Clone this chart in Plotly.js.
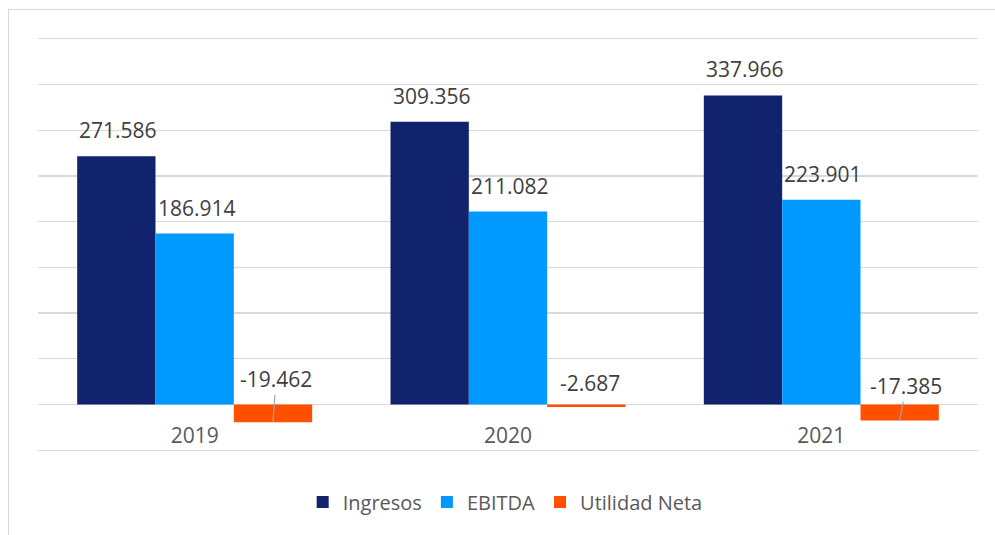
<!DOCTYPE html>
<html>
<head>
<meta charset="utf-8">
<script src="https://cdn.plot.ly/plotly-3.0.1.min.js"></script>
<style>
  html, body { margin: 0; padding: 0; background: #ffffff; }
  #wrap { position: relative; width: 995px; height: 535px; overflow: hidden; }
  #frame { position: absolute; left: 8px; top: 9px; width: 1100px; height: 700px;
           border-left: 1.5px solid #d9d9d9; border-top: 1.5px solid #d9d9d9; }
  #chart { position: absolute; left: 0; top: 0; width: 995px; height: 535px; }
</style>
</head>
<body>
<div id="wrap">
  <div id="frame"></div>
  <div id="chart"></div>
</div>
<script>
// ---- data ----
const years = ['2019', '2020', '2021'];
const ingresos = [271586, 309356, 337966];
const ebitda = [186914, 211082, 223901];
const utilidadNeta = [-19462, -2687, -17385];
const seriesNames = ['Ingresos', 'EBITDA', 'Utilidad Neta'];

// ---- styles ----
const colors = ['#12236e', '#0099ff', '#ff5000'];
const labelFont = { family: 'Open Sans, sans-serif', size: 21, color: '#404040' };
const catFont = { family: 'Open Sans, sans-serif', size: 21, color: '#595959' };
const legendFont = { family: 'Open Sans, sans-serif', size: 20, color: '#595959' };
const gridColor = '#d9d9d9';
// offsets (px) of the negative labels relative to the bar end: [dx, dy, leader?]
const negLabelOffsets = [[3, -43, true], [3.5, -24, false], [6.5, -34, true]];

const W = 995, H = 535;
const margin = { l: 38, r: 17, t: 36, b: 82, pad: 0 };
const yRange = [-53000, 403000];
const bargap = 0.25;

const series = [ingresos, ebitda, utilidadNeta];

function fmt(v) {
  const s = v < 0 ? '-' : '';
  return s + String(Math.abs(v)).replace(/\B(?=(\d{3})+(?!\d))/g, '.');
}

const traces = series.map((vals, k) => ({
  type: 'bar',
  name: seriesNames[k],
  x: years,
  y: vals,
  marker: { color: colors[k] },
  hoverinfo: 'skip'
}));

// bar width in px derived from layout
const plotW = W - margin.l - margin.r;
const barPx = plotW / years.length * (1 - bargap) / series.length;

const annotations = [];
series.forEach((vals, k) => {
  const dx = (k - 1) * barPx;
  vals.forEach((v, i) => {
    if (v >= 0) {
      annotations.push({
        x: i, y: v, xref: 'x', yref: 'y',
        text: fmt(v), showarrow: false,
        xanchor: 'center', yanchor: 'middle',
        xshift: dx + 2, yshift: 26,
        font: labelFont
      });
    } else {
      const o = negLabelOffsets[i];
      if (o[2]) {
        annotations.push({
          x: i, y: v, xref: 'x', yref: 'y',
          text: fmt(v), showarrow: true,
          arrowhead: 0, arrowwidth: 1.2, arrowcolor: '#a6a6a6',
          ax: o[0], ay: o[1], standoff: 0,
          xshift: dx,
          font: labelFont
        });
      } else {
        annotations.push({
          x: i, y: v, xref: 'x', yref: 'y',
          text: fmt(v), showarrow: false,
          xanchor: 'center', yanchor: 'middle',
          xshift: dx + o[0], yshift: -o[1],
          font: labelFont
        });
      }
    }
  });
});

const layout = {
  width: W, height: H,
  margin: margin,
  paper_bgcolor: 'rgba(0,0,0,0)',
  plot_bgcolor: 'rgba(0,0,0,0)',
  barmode: 'group',
  bargap: bargap,
  bargroupgap: 0,
  showlegend: true,
  legend: {
    orientation: 'h',
    x: 0.497, xanchor: 'center',
    xref: 'paper',
    yref: 'container', y: (H - 502) / H, yanchor: 'middle',
    font: legendFont,
    itemclick: false, itemdoubleclick: false
  },
  xaxis: {
    type: 'category',
    categoryorder: 'array', categoryarray: years,
    range: [-0.5, years.length - 0.5],
    anchor: 'free',
    position: (0 - yRange[0]) / (yRange[1] - yRange[0]),
    showgrid: false, showline: false, zeroline: false,
    ticks: '',
    tickfont: catFont,
    ticklabelstandoff: 16,
    fixedrange: true
  },
  yaxis: {
    range: yRange,
    dtick: 50000, tick0: 0,
    showticklabels: false,
    ticks: '',
    showgrid: true, gridcolor: gridColor, gridwidth: 1.3,
    zeroline: true, zerolinecolor: gridColor, zerolinewidth: 1.3,
    showline: false,
    fixedrange: true
  },
  annotations: annotations,
  font: { family: 'Open Sans, sans-serif', color: '#595959' }
};

Plotly.newPlot('chart', traces, layout, { staticPlot: true, displayModeBar: false });
</script>
</body>
</html>
